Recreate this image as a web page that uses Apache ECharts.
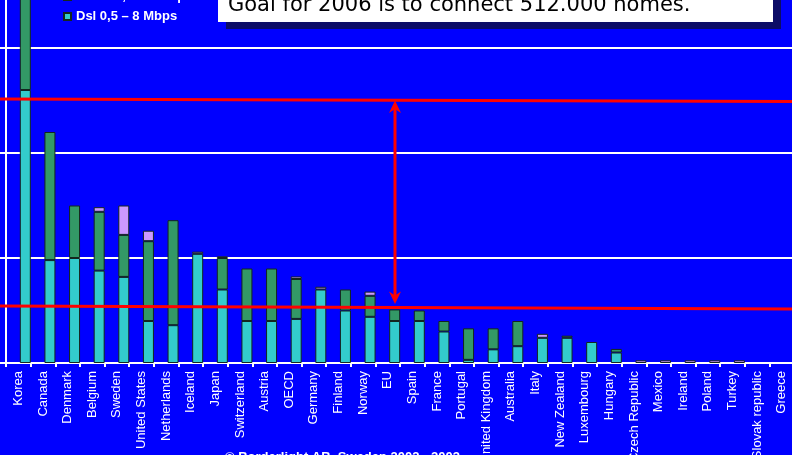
<!DOCTYPE html>
<html>
<head>
<meta charset="utf-8">
<script src="https://cdn.jsdelivr.net/npm/echarts@6/dist/echarts.min.js"></script>
<style>
html,body{margin:0;padding:0;background:#0000FF;}
#chart{width:792px;height:455px;}
</style>
</head>
<body>
<div id="chart"></div>
<script>
// Broadband per 100 inhabitants (approx.)
const categories = ['Korea','Canada','Denmark','Belgium','Sweden','United States','Netherlands','Iceland','Japan','Switzerland','Austria','OECD','Germany','Finland','Norway','EU','Spain','France','Portugal','United Kingdom','Australia','Italy','New Zealand','Luxembourg','Hungary','Czech Republic','Mexico','Ireland','Poland','Turkey','Slovak republic','Greece'];
const dsl   = [13.0, 4.9, 5.0, 4.4, 4.1, 2.0, 1.8, 5.2, 3.5, 2.0, 2.0, 2.1, 3.5, 2.5, 2.2, 2.0, 2.0, 1.5, 0.15, 0.65, 0.8, 1.2, 1.2, 1.0, 0.5, 0, 0, 0, 0, 0, 0, 0];
const cable = [8.3, 6.1, 2.5, 2.8, 2.0, 3.8, 5.0, 0, 1.5, 2.5, 2.5, 1.9, 0, 1.0, 1.0, 0.55, 0.5, 0.5, 1.5, 1.0, 1.2, 0, 0.1, 0, 0.17, 0, 0, 0, 0, 0, 0, 0];
const fiber = [0, 0, 0, 0.22, 1.4, 0.5, 0, 0.1, 0.08, 0, 0, 0.12, 0.13, 0, 0.2, 0, 0, 0, 0, 0, 0, 0.19, 0, 0, 0, 0.13, 0.13, 0.13, 0.13, 0.13, 0, 0];
const seriesNames = ['Fiber/LAN 10 – 100 Mbps', 'Cable 0,5 – 8 Mbps', 'Dsl 0,5 – 8 Mbps'];
const yTicks = [0, 5, 10, 15, 20];
const noteText = 'Goal for 2006 is to connect 512.000 homes.';
const copyrightText = '© Borderlight AB, Sweden 2002 - 2003';

const nz = a => a.map(v => v === 0 ? '-' : v);
const border = { borderColor: '#14261e', borderWidth: 1 };
const barCommon = { type: 'bar', barWidth: 11, barGap: '27%' };

const chart = echarts.init(document.getElementById('chart'), null, {renderer: 'canvas'});
chart.setOption({
  backgroundColor: '#0000FF',
  animation: false,
  grid: { left: 6, right: -2, top: -57, bottom: 92, containLabel: false, outerBoundsMode: 'none' },
  legend: {
    orient: 'vertical', left: 63, top: -30, padding: 0,
    itemWidth: 7, itemHeight: 7, itemGap: 7, icon: 'rect',
    data: seriesNames,
    textStyle: { color: '#fff', fontFamily: 'Liberation Sans, Arial', fontWeight: 'bold', fontSize: 13 }
  },
  xAxis: {
    type: 'category', data: categories,
    axisLine: { lineStyle: { color: '#fff', width: 2 } },
    axisTick: { show: true, length: 4, lineStyle: { color: '#fff', width: 2 } },
    axisLabel: { interval: 0, rotate: 90, margin: 8, color: '#fff', fontFamily: 'Liberation Sans, Arial', fontSize: 13 }
  },
  yAxis: {
    type: 'value', min: yTicks[0], max: yTicks[yTicks.length - 1], interval: 5,
    axisLine: { show: true, lineStyle: { color: '#fff', width: 2 } },
    axisTick: { show: true, length: 6, lineStyle: { color: '#fff', width: 2 } },
    axisLabel: { show: false },
    splitLine: { lineStyle: { color: '#fff', width: 2 } }
  },
  series: [
    Object.assign({ name: 'spacer', data: categories.map(() => '-'), silent: true }, barCommon),
    Object.assign({ name: seriesNames[2], stack: 'bb', data: nz(dsl), itemStyle: Object.assign({ color: '#33CCCC' }, border) }, barCommon),
    Object.assign({ name: seriesNames[1], stack: 'bb', data: nz(cable), itemStyle: Object.assign({ color: '#339966' }, border) }, barCommon),
    Object.assign({ name: seriesNames[0], stack: 'bb', data: nz(fiber), itemStyle: Object.assign({ color: '#CC99FF' }, border) }, barCommon)
  ],
  graphic: [
    { type: 'line', z: 50, shape: { x1: 0, y1: 99, x2: 792, y2: 101.5 }, style: { stroke: '#FF0000', lineWidth: 3 } },
    { type: 'line', z: 50, shape: { x1: 0, y1: 306, x2: 792, y2: 309 }, style: { stroke: '#FF0000', lineWidth: 3 } },
    { type: 'line', z: 50, shape: { x1: 395, y1: 106, x2: 395, y2: 299 }, style: { stroke: '#FF0000', lineWidth: 3 } },
    { type: 'polygon', z: 50, shape: { points: [[395, 100.5], [389, 113], [395, 109], [401, 113]] }, style: { fill: '#FF0000' } },
    { type: 'polygon', z: 50, shape: { points: [[395, 304], [389, 291.5], [395, 295.5], [401, 291.5]] }, style: { fill: '#FF0000' } },
    { type: 'rect', z: 60, shape: { x: 226, y: -20, width: 555, height: 49 }, style: { fill: '#0c0c66' } },
    { type: 'rect', z: 61, shape: { x: 218, y: -28, width: 555, height: 50 }, style: { fill: '#FFFFFF' } },
    { type: 'text', z: 62, x: 228, y: 6, style: { text: noteText, fill: '#000', font: '21px "DejaVu Sans", Tahoma, sans-serif', verticalAlign: 'middle' } },
    { type: 'text', z: 62, x: 225, y: 451, style: { text: copyrightText, fill: '#fff', font: 'bold 13px "Liberation Sans", Arial, sans-serif' } }
  ]
});
</script>
</body>
</html>
